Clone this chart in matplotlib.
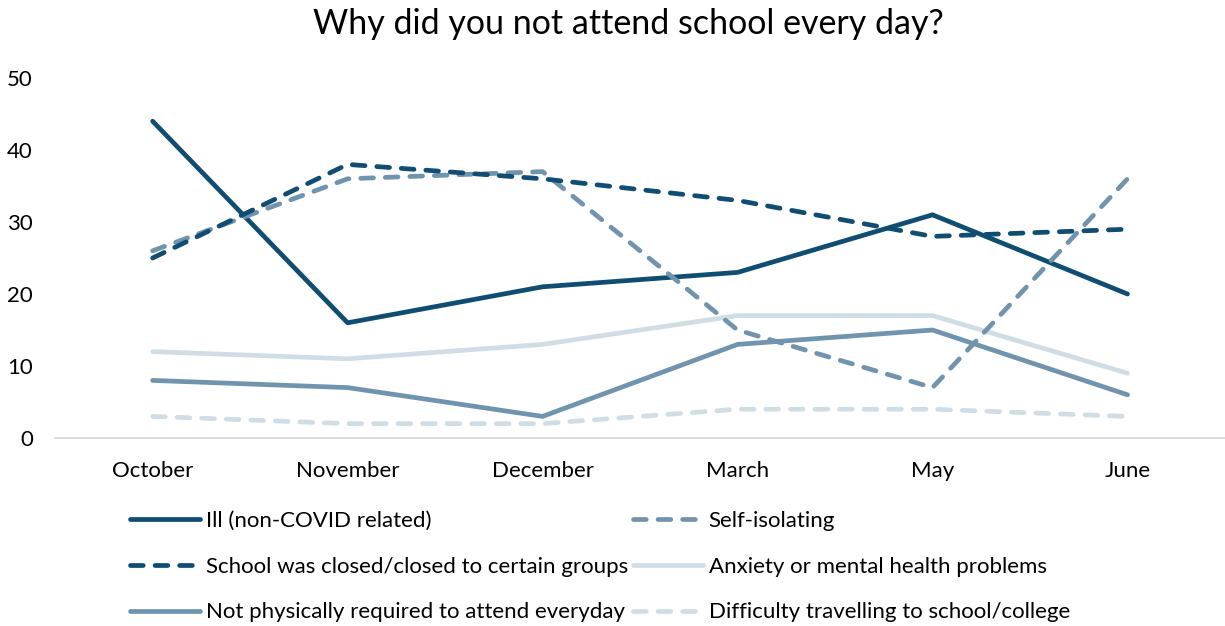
import matplotlib.pyplot as plt

plt.rcParams['font.family'] = ['Lato', 'DejaVu Sans']

# --- data ---
months = ['October', 'November', 'December', 'March', 'May', 'June']
ill = [44, 16, 21, 23, 31, 20]
self_isolating = [26, 36, 37, 15, 7, 36]
school_closed = [25, 38, 36, 33, 28, 29]
anxiety = [12, 11, 13, 17, 17, 9]
not_required = [8, 7, 3, 13, 15, 6]
travelling = [3, 2, 2, 4, 4, 3]

dark = '#0F4D73'
mid = '#7094AE'
light = '#D0DDE5'
dash = (2.7, 2.5)

fig = plt.figure(figsize=(12.25, 6.26), dpi=100)
ax = fig.add_axes([0.045, 0.3003, 0.955, 0.5751])
x = range(len(months))

lw = 3.4
def line(vals, color, dashed, label):
    kw = dict(color=color, lw=lw, label=label, solid_capstyle='round',
              solid_joinstyle='round', dash_capstyle='round')
    if dashed:
        kw['linestyle'] = (0, dash)
    l, = ax.plot(x, vals, **kw)
    return l

h_ill = line(ill, dark, False, 'Ill (non-COVID related)')
h_self = line(self_isolating, mid, True, 'Self-isolating')
h_closed = line(school_closed, dark, True, 'School was closed/closed to certain groups')
h_anx = line(anxiety, light, False, 'Anxiety or mental health problems')
h_req = line(not_required, mid, False, 'Not physically required to attend everyday')
h_trav = line(travelling, light, True, 'Difficulty travelling to school/college')

for h in [h_anx, h_req, h_trav]:
    h.set_zorder(1)
for h in [h_ill, h_self, h_closed]:
    h.set_zorder(2)

ax.set_xlim(-0.5, 5.5)
ax.set_ylim(0, 50)
ax.set_yticks(range(0, 51, 10))
ax.set_xticks(list(x))
ax.set_xticklabels(months)
ax.tick_params(axis='both', length=0, labelsize=16, colors='#000000')
ax.tick_params(axis='y', pad=16)
ax.tick_params(axis='x', pad=16.5)
for s in ['top', 'right', 'left']:
    ax.spines[s].set_visible(False)
ax.spines['bottom'].set_color('#D9D9D9')
ax.spines['bottom'].set_linewidth(1.3)

fig.text(0.513, 0.962, 'Why did you not attend school every day?', ha='center',
         va='center', fontsize=24.5)

handles = [h_ill, h_closed, h_req, h_self, h_anx, h_trav]
fig.legend(handles=handles, labels=[h.get_label() for h in handles], ncol=2,
           loc='upper left', bbox_to_anchor=(0.106, 0.184), frameon=False,
           fontsize=16, handlelength=3.15, handletextpad=0.27,
           columnspacing=0.2, labelspacing=1.16, borderaxespad=0, borderpad=0)

fig.savefig('out.png', dpi=100)
